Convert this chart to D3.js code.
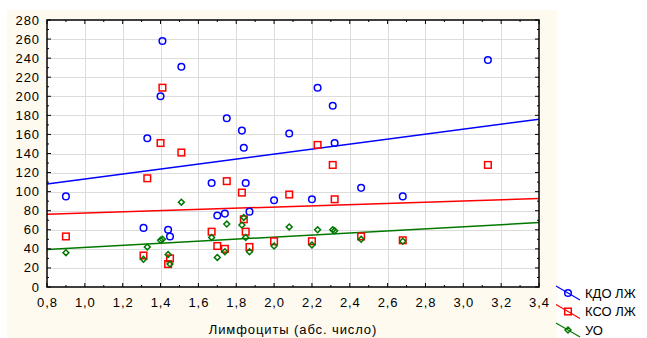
<!DOCTYPE html>
<html>
<head>
<meta charset="utf-8">
<script src="https://cdn.jsdelivr.net/npm/d3@7"></script>
<style>
  body { margin: 0; background: #fff; }
  text { font-family: "Liberation Sans", Arial, sans-serif; fill: #000; }
</style>
</head>
<body>
<div id="chart"></div>
<script>
// лимфоциты (абс. число)
var lymph = [0.90, 1.31, 1.33, 1.40, 1.41, 1.44, 1.45, 1.51, 1.67, 1.70, 1.74, 1.75, 1.83,
             1.84, 1.85, 1.87, 2.00, 2.08, 2.20, 2.23, 2.31, 2.32, 2.46, 2.68, 3.13];
var kdo = [95, 62, 156, 200, 258, 60, 53, 231, 109, 75, 77, 177, 164,
           146, 109, 79, 91, 161, 92, 209, 190, 151, 104, 95, 238];
var kso = [53, 33, 114, 151, 209, 24, 30, 141, 58, 43, 40, 111, 99,
           71, 58, 42, 48, 97, 48, 149, 128, 92, 53, 49, 128];
var uo  = [36, 29, 42, 49, 50, 34, 24, 89, 52, 31, 37, 66, 65,
           73, 52, 37, 43, 63, 44, 60, 60, 59, 50, 48, null];

// fitted lines: [intercept, slope]
var fitKdo = [87.1, 26.15];
var fitKso = [71.3, 6.3];
var fitUo  = [30.5, 10.9];

var xTicks = [0.8, 1.0, 1.2, 1.4, 1.6, 1.8, 2.0, 2.2, 2.4, 2.6, 2.8, 3.0, 3.2, 3.4];
var yTicks = [0, 20, 40, 60, 80, 100, 120, 140, 160, 180, 200, 220, 240, 260, 280];
var seriesNames = ['КДО ЛЖ', 'КСО ЛЖ', 'УО'];

var width = 647, height = 338;
var margin = {left: 47, right: 108, top: 20, bottom: 51};

var svg = d3.select('#chart')
  .append('svg')
    .attr('width', width)
    .attr('height', height);

svg.append('rect')
  .attr('x', 7).attr('y', 10)
  .attr('width', 550).attr('height', 328)
  .style('fill', '#fefaf0');

var x = d3.scaleLinear().domain([0.8, 3.4]).range([margin.left, width - margin.right]);
var y = d3.scaleLinear().domain([0, 280]).range([height - margin.bottom, margin.top]);

svg.append('rect')
  .attr('x', x(0.8)).attr('y', y(280))
  .attr('width', x(3.4) - x(0.8)).attr('height', y(0) - y(280))
  .style('fill', '#fff');

// grid
var grid = svg.append('g').style('stroke', '#dcdcdc').style('stroke-width', 1);
grid.selectAll('line.gx')
  .data(xTicks.slice(1, -1))
  .enter().append('line')
    .attr('x1', function (d) { return Math.round(x(d)) + 0.5; })
    .attr('x2', function (d) { return Math.round(x(d)) + 0.5; })
    .attr('y1', y(280)).attr('y2', y(0));
grid.selectAll('line.gy')
  .data(yTicks.slice(1, -1))
  .enter().append('line')
    .attr('y1', function (d) { return Math.round(y(d)) + 0.5; })
    .attr('y2', function (d) { return Math.round(y(d)) + 0.5; })
    .attr('x1', x(0.8)).attr('x2', x(3.4));

var plot = svg.append('g');

// regression lines
function fitLine(fit, color) {
  var dom = x.domain();
  plot.append('line')
    .attr('x1', x(dom[0])).attr('y1', y(fit[0] + fit[1] * dom[0]))
    .attr('x2', x(dom[1])).attr('y2', y(fit[0] + fit[1] * dom[1]))
    .style('stroke', color)
    .style('stroke-width', 1.5);
}
fitLine(fitKdo, '#0000ff');
fitLine(fitKso, '#ff0000');
fitLine(fitUo, '#007800');

var pts = lymph.map(function (v, i) { return {x: v, kdo: kdo[i], kso: kso[i], uo: uo[i]}; });

plot.selectAll('circle.kdo')
  .data(pts)
  .enter().append('circle')
    .attr('cx', function (d) { return x(d.x); })
    .attr('cy', function (d) { return y(d.kdo); })
    .attr('r', 3.3)
    .style('fill', 'none')
    .style('stroke', '#0000ff')
    .style('stroke-width', 1.5);

plot.selectAll('rect.kso')
  .data(pts)
  .enter().append('rect')
    .attr('x', function (d) { return x(d.x) - 3.3; })
    .attr('y', function (d) { return y(d.kso) - 3.3; })
    .attr('width', 6.6).attr('height', 6.6)
    .style('fill', 'none')
    .style('stroke', '#ff0000')
    .style('stroke-width', 1.5);

var diamond = d3.symbol().type(d3.symbolDiamond2).size(22);
plot.selectAll('path.uo')
  .data(pts.filter(function (d) { return d.uo != null; }))
  .enter().append('path')
    .attr('d', diamond)
    .attr('transform', function (d) { return 'translate(' + x(d.x) + ',' + y(d.uo) + ')'; })
    .style('fill', 'none')
    .style('stroke', '#007800')
    .style('stroke-width', 1.5);

// frame and ticks
var frame = svg.append('g').style('stroke', '#000').style('fill', 'none');
frame.append('rect')
  .attr('x', x(0.8)).attr('y', y(280))
  .attr('width', x(3.4) - x(0.8)).attr('height', y(0) - y(280))
  .style('stroke-width', 1.5);

var xMinor = d3.range(0.8, 3.401, 0.1);
var yMinor = d3.range(0, 281, 10);
frame.selectAll('line.xt')
  .data(xMinor)
  .enter().append('line')
    .attr('x1', function (d) { return x(d); })
    .attr('x2', function (d) { return x(d); })
    .attr('y1', y(0))
    .attr('y2', function (d, i) { return y(0) - (i % 2 ? 2 : 4); });
frame.selectAll('line.xt2')
  .data(xMinor)
  .enter().append('line')
    .attr('x1', function (d) { return x(d); })
    .attr('x2', function (d) { return x(d); })
    .attr('y1', y(280))
    .attr('y2', function (d, i) { return y(280) + (i % 2 ? 2 : 4); });
frame.selectAll('line.yt')
  .data(yMinor)
  .enter().append('line')
    .attr('y1', function (d) { return y(d); })
    .attr('y2', function (d) { return y(d); })
    .attr('x1', x(0.8))
    .attr('x2', function (d, i) { return x(0.8) + (i % 2 ? 2 : 4); });
frame.selectAll('line.yt2')
  .data(yMinor)
  .enter().append('line')
    .attr('y1', function (d) { return y(d); })
    .attr('y2', function (d) { return y(d); })
    .attr('x1', x(3.4))
    .attr('x2', function (d, i) { return x(3.4) - (i % 2 ? 2 : 4); });

// tick labels
var fmt = function (d) { return d3.format('.1f')(d).replace('.', ','); };
svg.selectAll('text.xl')
  .data(xTicks)
  .enter().append('text')
    .attr('x', function (d) { return x(d) + 0.5; })
    .attr('y', 307)
    .attr('text-anchor', 'middle')
    .style('font-size', '13px')
    .style('letter-spacing', '0.9px')
    .text(fmt);
svg.selectAll('text.yl')
  .data(yTicks)
  .enter().append('text')
    .attr('x', 40)
    .attr('y', function (d) { return y(d) + 4.5; })
    .attr('text-anchor', 'end')
    .style('font-size', '13px')
    .style('letter-spacing', '0.9px')
    .text(function (d) { return d; });

svg.append('text')
  .attr('x', (x(0.8) + x(3.4)) / 2)
  .attr('y', 334)
  .attr('text-anchor', 'middle')
  .style('font-size', '13px')
  .style('letter-spacing', '0.9px')
  .text('Лимфоциты (абс. число)');

// legend
var legColors = ['#0000ff', '#ff0000', '#007800'];
var leg = svg.selectAll('g.leg')
  .data(seriesNames)
  .enter().append('g')
    .attr('transform', function (d, i) { return 'translate(568,' + (293 + i * 18.5) + ')'; });
leg.append('line')
  .attr('x1', -12).attr('y1', -7).attr('x2', 12).attr('y2', 7)
  .style('stroke', function (d, i) { return legColors[i]; })
  .style('stroke-width', 1.2);
leg.each(function (d, i) {
  var g = d3.select(this);
  var c = legColors[i];
  if (i === 0) {
    g.append('circle').attr('r', 3.3).style('fill', 'none').style('stroke', c).style('stroke-width', 1.5);
  } else if (i === 1) {
    g.append('rect').attr('x', -3.3).attr('y', -3.3).attr('width', 6.6).attr('height', 6.6)
      .style('fill', 'none').style('stroke', c).style('stroke-width', 1.5);
  } else {
    g.append('path').attr('d', diamond).style('fill', 'none').style('stroke', c).style('stroke-width', 1.5);
  }
});
leg.append('text')
  .attr('x', 17).attr('y', 4.5)
  .style('font-size', '13px')
  .text(function (d) { return d; });
</script>
</body>
</html>
